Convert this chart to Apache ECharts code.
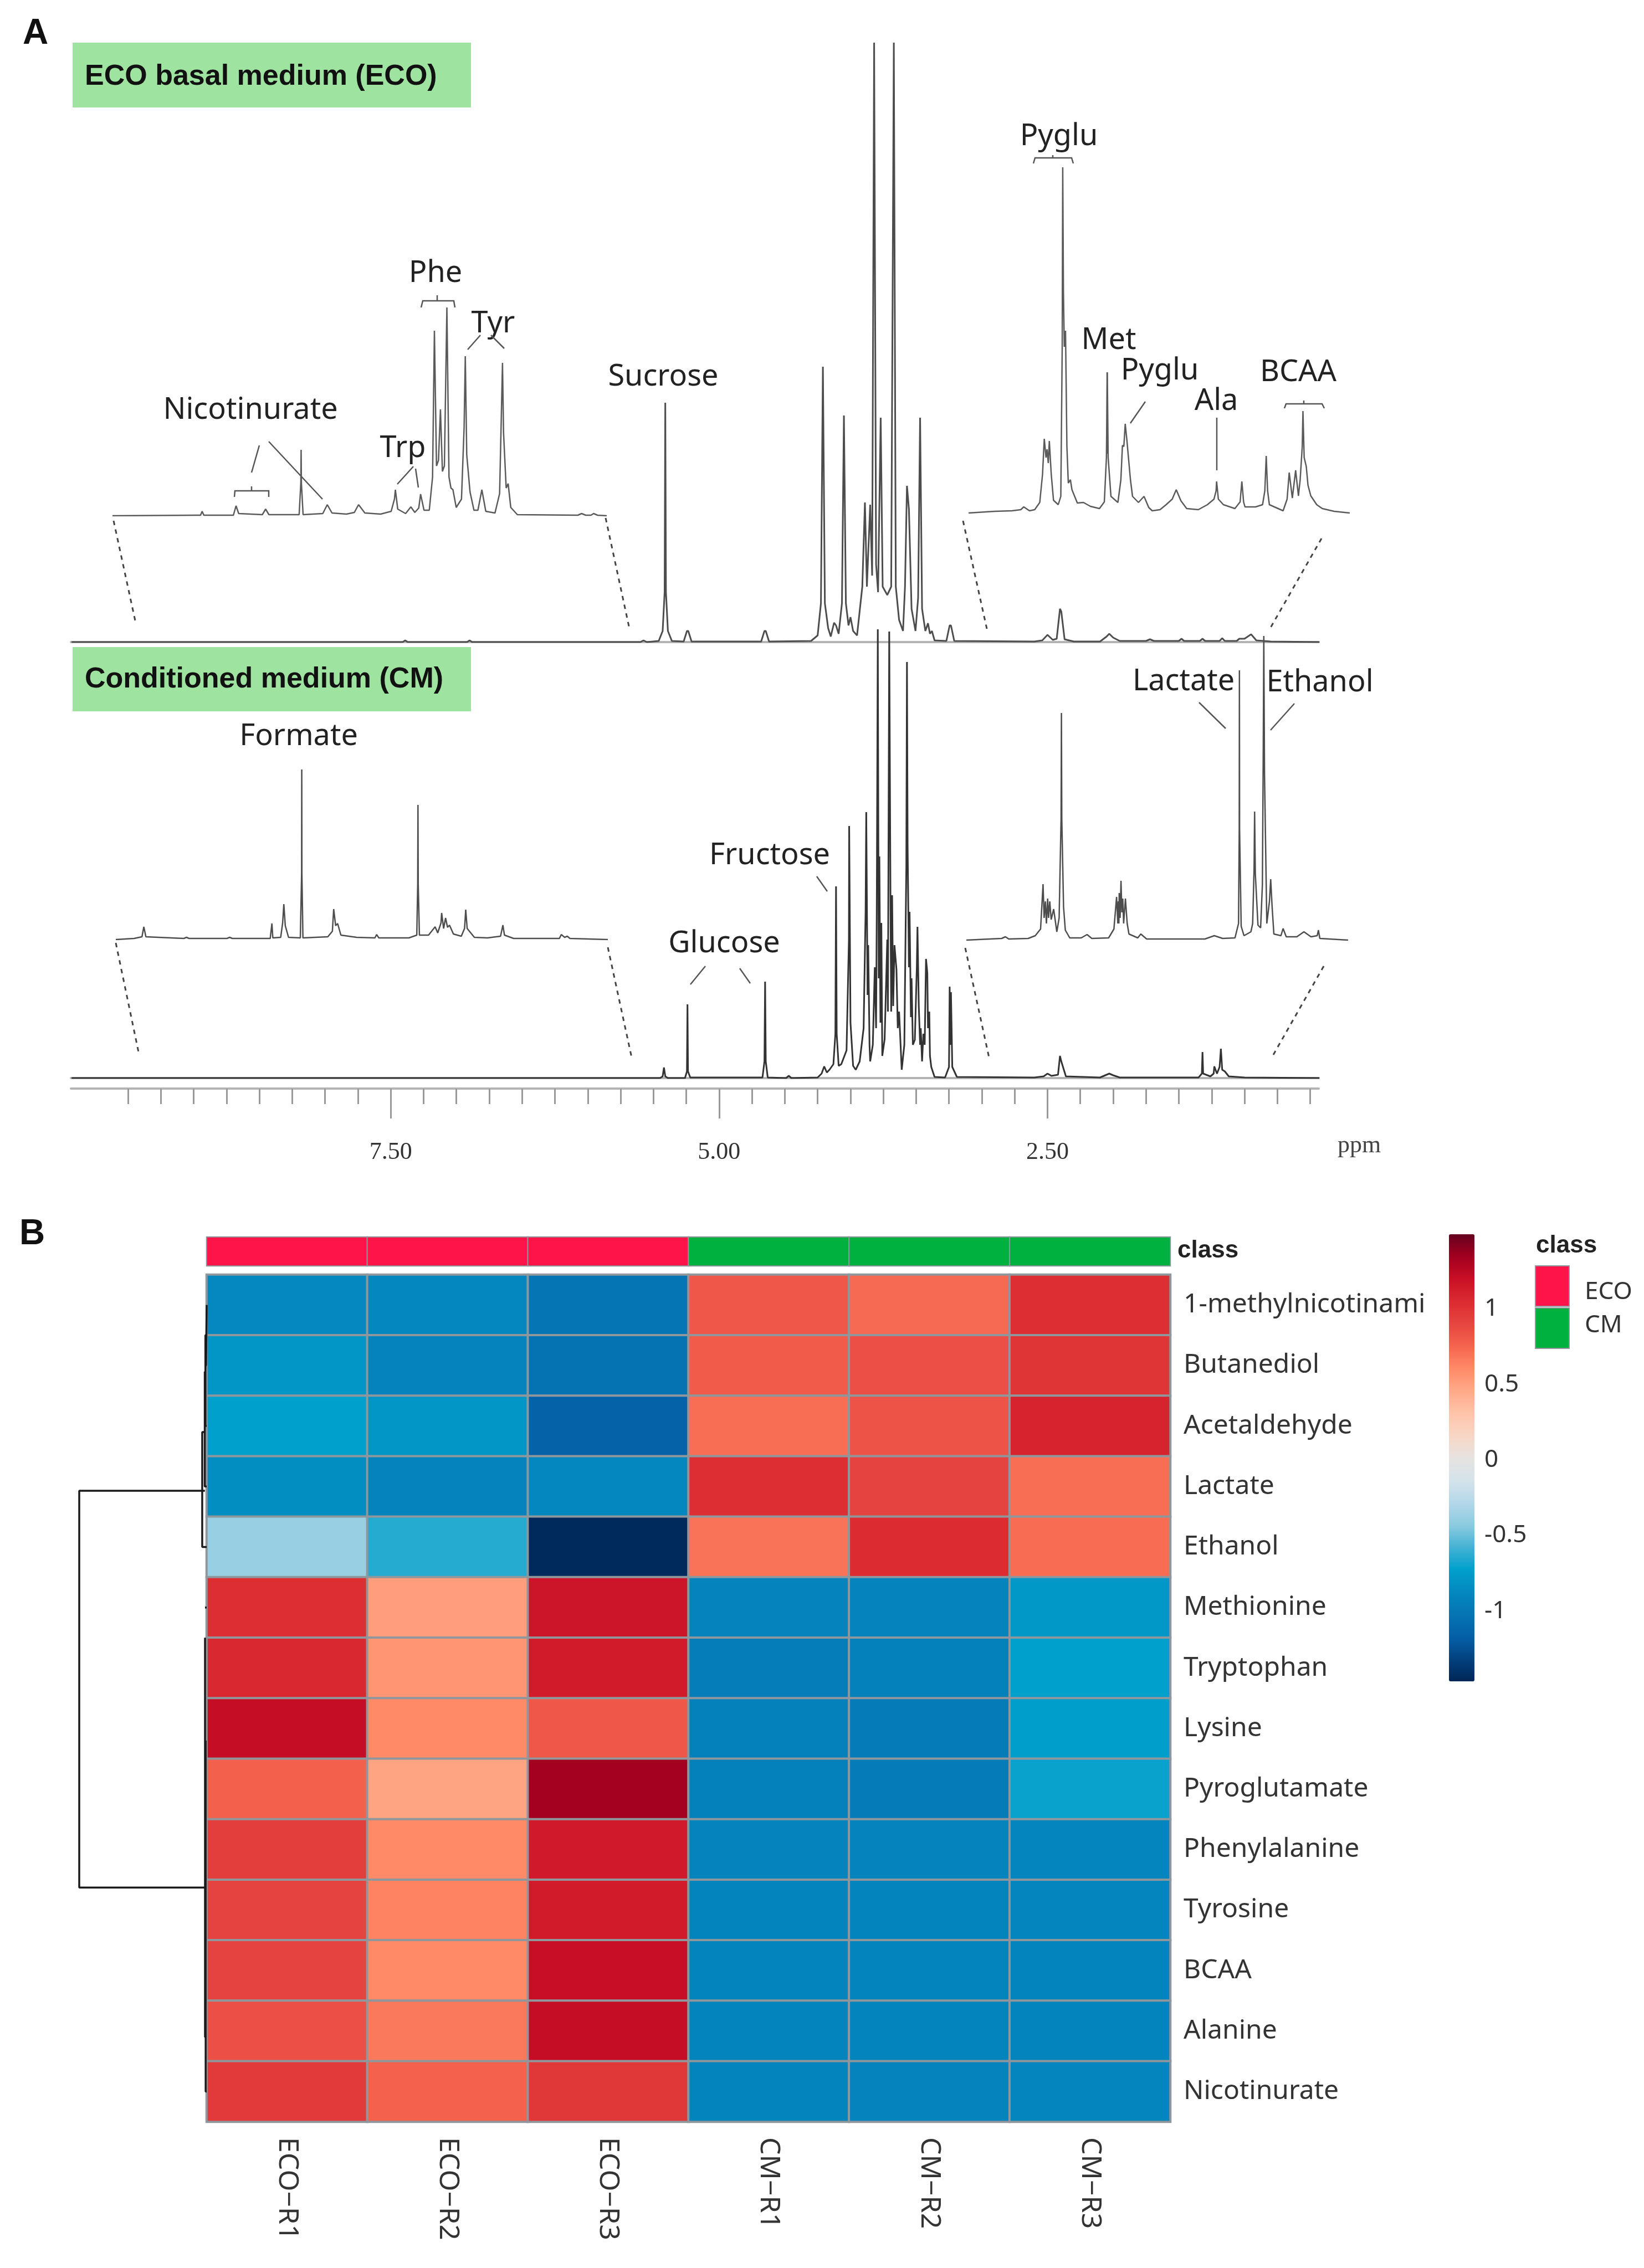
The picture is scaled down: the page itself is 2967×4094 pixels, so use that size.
<!DOCTYPE html>
<html>
<head>
<meta charset="utf-8">
<style>
  html, body { margin: 0; padding: 0; background: #fff; }
  #chart { width: 2967px; height: 4094px; }
</style>
<script src="https://cdn.jsdelivr.net/npm/echarts@6/dist/echarts.min.js"></script>
</head>
<body>
<div id="chart"></div>
<script>
// spectra: [ppm, intensity] vertices
const ecoMain = [[9.93,0],[7.41,0],[7.39,3],[7.37,0],[6.92,0],[6.9,3],[6.88,0],[5.6,0],[5.576,3],[5.55,0],[5.46,2],[5.43,20],[5.415,90],[5.41,432],[5.405,90],[5.39,20],[5.36,2],[5.27,1],[5.245,20],[5.235,20],[5.21,1],[4.68,1],[4.655,20],[4.645,20],[4.62,1],[4.3,2],[4.25,12],[4.225,70],[4.21,497],[4.195,70],[4.17,25],[4.15,10],[4.125,35],[4.11,30],[4.09,15],[4.065,70],[4.05,409],[4.035,70],[4.015,30],[4.0,45],[3.98,20],[3.95,12],[3.91,100],[3.89,252],[3.875,100],[3.85,248],[3.835,120],[3.82,1082],[3.805,140],[3.79,90],[3.77,405],[3.755,100],[3.72,85],[3.69,100],[3.67,1082],[3.655,100],[3.63,40],[3.6,20],[3.585,100],[3.57,282],[3.555,240],[3.535,60],[3.505,20],[3.485,80],[3.47,405],[3.455,60],[3.43,20],[3.41,34],[3.395,15],[3.38,20],[3.36,3],[3.27,2],[3.245,30],[3.235,30],[3.21,2],[2.6,1],[2.54,3],[2.5,13],[2.46,4],[2.43,6],[2.405,60],[2.395,55],[2.37,5],[2.3,1],[2.1,1],[2.05,10],[2.03,15],[2.0,8],[1.95,2],[1.75,2],[1.72,5],[1.69,2],[1.5,2],[1.48,6],[1.46,2],[1.34,2],[1.32,6],[1.3,2],[1.19,2],[1.17,7],[1.15,2],[1.06,2],[1.04,6],[1.0,6],[0.95,14],[0.91,3],[0.8,1],[0.43,0]]
const ecoLeft = [[9.44,0],[8.80,1],[8.77,1],[8.758,8],[8.745,1],[8.52,1],[8.50,18],[8.48,4],[8.30,2],[8.275,12],[8.25,2],[8.02,2],[8.007,60],[8.005,119],[8.003,60],[7.99,2],[7.84,4],[7.806,20],[7.77,5],[7.66,3],[7.60,6],[7.568,20],[7.52,5],[7.40,3],[7.32,8],[7.295,30],[7.288,47],[7.27,12],[7.21,4],[7.17,16],[7.14,6],[7.11,14],[7.096,39],[7.07,10],[7.03,10],[7.005,70],[6.991,334],[6.975,90],[6.96,100],[6.945,192],[6.93,80],[6.915,90],[6.896,376],[6.88,70],[6.865,50],[6.85,47],[6.825,15],[6.785,30],[6.765,160],[6.756,288],[6.745,110],[6.72,43],[6.69,10],[6.66,10],[6.63,47],[6.60,8],[6.53,5],[6.495,40],[6.48,200],[6.473,276],[6.465,150],[6.445,50],[6.43,58],[6.41,15],[6.36,2],[5.90,1],[5.871,4],[5.84,1],[5.80,1],[5.78,4],[5.75,1],[5.68,0]]
const ecoRight = [[3.0,0],[2.85,3],[2.75,4],[2.70,6],[2.683,11],[2.65,4],[2.62,6],[2.591,19],[2.575,70],[2.565,134],[2.555,100],[2.549,115],[2.542,90],[2.536,130],[2.525,70],[2.512,23],[2.485,15],[2.47,30],[2.462,300],[2.459,624],[2.455,400],[2.45,300],[2.443,329],[2.435,120],[2.427,54],[2.415,60],[2.406,42],[2.375,18],[2.34,19],[2.3,12],[2.248,8],[2.22,20],[2.208,100],[2.203,254],[2.198,100],[2.182,30],[2.142,19],[2.125,60],[2.116,122],[2.108,120],[2.10,161],[2.09,130],[2.084,130],[2.07,60],[2.058,30],[2.024,19],[1.992,30],[1.965,10],[1.945,4],[1.9,6],[1.865,15],[1.83,25],[1.807,42],[1.78,22],[1.747,8],[1.68,6],[1.628,15],[1.59,25],[1.578,40],[1.575,57],[1.565,25],[1.536,15],[1.47,8],[1.44,20],[1.43,57],[1.42,20],[1.412,11],[1.351,11],[1.311,15],[1.298,40],[1.29,103],[1.282,40],[1.272,15],[1.193,4],[1.17,25],[1.158,73],[1.14,27],[1.121,77],[1.105,31],[1.095,60],[1.083,120],[1.079,184],[1.072,100],[1.06,84],[1.05,50],[1.034,31],[1.0,15],[0.968,8],[0.9,3],[0.81,0]]
const cmMain = [[9.93,0],[5.45,0],[5.43,3],[5.42,19],[5.41,3],[5.39,0],[5.26,0],[5.245,12],[5.241,133],[5.237,12],[5.22,1],[4.67,1],[4.655,30],[4.65,174],[4.645,30],[4.63,1],[4.49,0],[4.47,4],[4.45,0],[4.25,1],[4.22,8],[4.2,21],[4.18,10],[4.16,15],[4.13,25],[4.115,80],[4.11,346],[4.105,80],[4.09,22],[4.07,25],[4.03,50],[4.012,250],[4.01,455],[4.0,100],[3.98,22],[3.96,15],[3.93,30],[3.90,90],[3.885,300],[3.88,480],[3.87,150],[3.865,240],[3.855,60],[3.85,30],[3.83,60],[3.815,200],[3.805,90],[3.80,300],[3.792,810],[3.785,180],[3.78,400],[3.772,100],[3.765,280],[3.758,40],[3.74,70],[3.72,250],[3.715,120],[3.705,806],[3.695,300],[3.69,120],[3.683,330],[3.675,130],[3.665,240],[3.65,196],[3.64,90],[3.63,120],[3.61,15],[3.59,60],[3.575,380],[3.57,751],[3.565,420],[3.555,200],[3.55,300],[3.54,110],[3.535,180],[3.525,60],[3.51,69],[3.495,200],[3.49,273],[3.48,130],[3.47,60],[3.465,90],[3.455,30],[3.445,80],[3.435,60],[3.425,215],[3.415,190],[3.41,90],[3.40,120],[3.395,40],[3.385,20],[3.36,2],[3.28,1],[3.25,20],[3.245,165],[3.24,60],[3.235,155],[3.225,20],[3.19,2],[2.6,1],[2.53,3],[2.5,8],[2.47,4],[2.42,6],[2.405,40],[2.395,30],[2.36,3],[2.1,1],[2.06,5],[2.03,8],[2.0,5],[1.95,1],[1.35,1],[1.325,8],[1.32,47],[1.315,8],[1.26,3],[1.235,8],[1.23,21],[1.21,8],[1.19,20],[1.18,53],[1.17,15],[1.15,12],[1.12,3],[1.0,1],[0.43,0]]
const cmLeft = [[9.44,0],[9.3,2],[9.24,5],[9.226,23],[9.21,5],[8.92,2],[8.90,4],[8.88,2],[8.59,2],[8.57,4],[8.55,2],[8.26,2],[8.247,29],[8.24,3],[8.18,4],[8.165,30],[8.156,64],[8.145,25],[8.12,4],[8.03,3],[8.02,120],[8.019,307],[8.018,120],[8.01,3],[7.82,5],[7.785,15],[7.775,55],[7.76,25],[7.745,29],[7.72,8],[7.6,4],[7.46,3],[7.447,9],[7.43,3],[7.2,3],[7.14,8],[7.133,100],[7.131,243],[7.129,100],[7.12,8],[7.05,8],[7.0,23],[6.98,12],[6.955,30],[6.95,48],[6.935,20],[6.92,39],[6.905,22],[6.89,26],[6.86,10],[6.8,6],[6.775,20],[6.766,54],[6.755,20],[6.7,4],[6.6,3],[6.5,6],[6.482,26],[6.47,8],[6.4,2],[6.05,2],[6.036,9],[6.01,4],[5.99,6],[5.97,2],[5.68,0]]
const cmRight = [[2.95,0],[2.75,3],[2.729,6],[2.71,2],[2.6,3],[2.56,8],[2.53,20],[2.516,101],[2.51,40],[2.503,70],[2.497,30],[2.49,75],[2.485,40],[2.478,70],[2.47,37],[2.456,56],[2.438,15],[2.425,40],[2.414,220],[2.412,410],[2.41,220],[2.40,60],[2.39,18],[2.365,4],[2.3,4],[2.267,10],[2.24,3],[2.145,4],[2.115,20],[2.10,78],[2.093,30],[2.09,70],[2.087,30],[2.085,85],[2.08,40],[2.075,107],[2.07,50],[2.065,75],[2.06,30],[2.05,75],[2.04,30],[2.03,11],[1.98,4],[1.963,11],[1.93,2],[1.6,2],[1.547,8],[1.50,3],[1.43,4],[1.41,30],[1.406,200],[1.405,487],[1.404,200],[1.395,25],[1.379,8],[1.34,15],[1.33,30],[1.322,130],[1.319,232],[1.315,120],[1.30,27],[1.285,22],[1.275,100],[1.27,350],[1.267,549],[1.263,300],[1.25,30],[1.235,70],[1.228,110],[1.22,60],[1.21,11],[1.17,8],[1.158,21],[1.14,6],[1.08,6],[1.04,15],[1.0,6],[0.965,8],[0.958,18],[0.95,3],[0.79,0]]

const ppmMajor = [7.5, 5, 2.5]
const ppmMinor = [9.5,9.25,9,8.75,8.5,8.25,8,7.75,7.25,7,6.75,6.5,6.25,6,5.75,5.5,5.25,4.75,4.5,4.25,4,3.75,3.5,3.25,3,2.75,2.25,2,1.75,1.5,1.25,1,0.75,0.5]

// heatmap
const samples = ['ECO\u2212R1', 'ECO\u2212R2', 'ECO\u2212R3', 'CM\u2212R1', 'CM\u2212R2', 'CM\u2212R3']
const sampleClass = ['ECO', 'ECO', 'ECO', 'CM', 'CM', 'CM']
const metabolites = ['1-methylnicotinami', 'Butanediol', 'Acetaldehyde', 'Lactate', 'Ethanol', 'Methionine', 'Tryptophan', 'Lysine', 'Pyroglutamate', 'Phenylalanine', 'Tyrosine', 'BCAA', 'Alanine', 'Nicotinurate']
const zscores = [
  [-0.89, -0.9, -1.03, 0.8, 0.72, 1.02],
  [-0.8, -0.93, -1.05, 0.78, 0.84, 0.98],
  [-0.74, -0.8, -1.18, 0.7, 0.82, 1.08],
  [-0.85, -0.93, -0.9, 1.02, 0.9, 0.7],
  [-0.4, -0.66, -1.46, 0.68, 1.03, 0.71],
  [1.02, 0.5, 1.15, -0.93, -0.93, -0.79],
  [1.05, 0.54, 1.12, -0.97, -0.95, -0.74],
  [1.2, 0.59, 0.8, -0.95, -0.98, -0.75],
  [0.76, 0.47, 1.33, -0.95, -0.98, -0.72],
  [0.93, 0.59, 1.13, -0.93, -0.93, -0.91],
  [0.9, 0.62, 1.12, -0.92, -0.92, -0.91],
  [0.9, 0.59, 1.19, -0.92, -0.92, -0.92],
  [0.84, 0.66, 1.2, -0.92, -0.92, -0.92],
  [0.95, 0.75, 0.97, -0.92, -0.93, -0.91]
]
const colorTicks = [-1, -0.5, 0, 0.5, 1]
const rampColors = ['#002557', '#03427f', '#0560a8', '#0575b3', '#0488bf', '#00a0cc', '#45b2d4', '#8ccbe0', '#b4d8e9', '#d5e3ea', '#e6e3e0', '#f8d5c5', '#ffc4aa', '#ffa988', '#ff8a68', '#f5644e', '#e64540', '#dc2b31', '#c90f26', '#a30020', '#67001f']
const classColors = { ECO: '#ff1449', CM: '#00b140' }

// dendrogram branches: [height, row position]
const dendroBranches = [
  [[1.4, 3.57], [100, 3.57], [100, 10.13], [1.3, 10.13]],
  [[0, 4.5], [3.5, 4.5], [3.5, 2.6], [1.5, 2.6]],
  [[1.5, 1.6], [1.5, 3.5], [0, 3.5]],
  [[0, 2.5], [1, 2.5], [1, 1.0], [0.5, 1.0]],
  [[0, 0.5], [0.5, 0.5], [0.5, 1.5], [0, 1.5]],
  [[1.3, 6.0], [1.3, 12.6], [0.5, 12.6]],
  [[0.8, 7.7], [0.8, 13.5], [0, 13.5]],
  [[0, 5.5], [1.3, 5.5]]
]

// annotations
const peakLabels = [
  ['Phe', 786, 494], ['Tyr', 890, 585], ['Sucrose', 1197, 681], ['Nicotinurate', 452, 741], ['Trp', 727, 810],
  ['Pyglu', 1911, 247], ['Met', 2001, 615], ['Pyglu', 2093, 670], ['Ala', 2195, 725], ['BCAA', 2343, 673],
  ['Formate', 539, 1330], ['Glucose', 1307, 1704], ['Fructose', 1389, 1545], ['Lactate', 2136, 1231], ['Ethanol', 2382, 1233]
]
const leaderLines = [
  [468,804,454,853], [485,797,582,901], [746,842,717,874], [750,846,755,880], [867,605,844,631], [886,605,910,629],
  [2067,725,2040,764], [1998,672,1998,819], [2196,754,2196,849], [454,886,454,878], [789,543,789,533], [1900,285,1900,280], [2353,729,2353,723],
  [1273,1744,1246,1777], [1335,1748,1354,1775], [1474,1582,1493,1609], [2164,1268,2212,1315], [2336,1270,2293,1318]
]
const brackets = [
  [[423,897],[424,886],[485,886],[485,897]],
  [[760,555],[763,543],[819,543],[821,555]],
  [[1865,295],[1868,285],[1934,285],[1937,295]],
  [[2318,737],[2321,729],[2386,729],[2390,737]]
]
const zoomGuides = [
  [205,940,245,1125], [1093,935,1136,1135], [1738,940,1781,1135], [2385,972,2293,1133],
  [209,1702,250,1899], [1097,1710,1140,1909], [1742,1711,1785,1909], [2389,1744,2298,1904]
]

const SANS = '"Noto Sans", sans-serif'
const chart = echarts.init(document.getElementById('chart'))

// one grid per spectrum, always the same hidden axes
const spectra = [
  { data: ecoMain, left: 128, width: 2252, top: 77, height: 1082, min: 0.435, max: 9.935, color: '#4d4d4d', lw: 3, main: true },
  { data: cmMain, left: 128, width: 2252, top: 1136, height: 810, min: 0.435, max: 9.935, color: '#333', lw: 3, main: true },
  { data: ecoLeft, left: 203, width: 892, top: 531, height: 400, min: 5.68, max: 9.44, color: '#5a5a5a', lw: 2.5 },
  { data: ecoRight, left: 1748, width: 688, top: 276, height: 650, min: 0.81, max: 3.0, color: '#5a5a5a', lw: 2.5 },
  { data: cmLeft, left: 209, width: 888, top: 1376, height: 320, min: 5.68, max: 9.44, color: '#4d4d4d', lw: 2.5 },
  { data: cmRight, left: 1744, width: 689, top: 1137, height: 560, min: 0.79, max: 2.95, color: '#4d4d4d', lw: 2.5 }
]

const grids = []
const xAxes = []
const yAxes = []
const series = []

spectra.forEach((s, i) => {
  grids.push({ left: s.left, width: s.width, top: s.top, height: s.height })
  xAxes.push({
    type: 'value', gridIndex: i, inverse: true, min: s.min, max: s.max,
    splitLine: { show: false }, axisTick: { show: false }, axisLabel: { show: false },
    axisLine: { show: !!s.main, onZero: false, lineStyle: { color: '#b4b4b4', width: 4 } }
  })
  yAxes.push({ type: 'value', gridIndex: i, min: 0, max: s.height, show: false })
  series.push({
    type: 'line', xAxisIndex: i, yAxisIndex: i, data: s.data, showSymbol: false, silent: true,
    lineStyle: { color: s.color, width: s.lw }
  })
})

// ppm scale below the spectra: one axis for long ticks + labels, one for short ticks
const scaleGrid = grids.length
grids.push({ left: 128, width: 2252, top: 1935, height: 30 })
xAxes.push({
  type: 'value', gridIndex: scaleGrid, inverse: true, min: 0.435, max: 9.935, position: 'bottom',
  splitLine: { show: false },
  axisLine: { lineStyle: { color: '#b4b4b4', width: 4 } },
  axisTick: { customValues: ppmMajor, length: 54, lineStyle: { color: '#999', width: 3 } },
  axisLabel: {
    customValues: ppmMajor, margin: 93, color: '#333', fontSize: 44, fontFamily: '"Liberation Serif", serif',
    formatter: v => v.toFixed(2)
  }
})
xAxes.push({
  type: 'value', gridIndex: scaleGrid, inverse: true, min: 0.435, max: 9.935, position: 'bottom',
  splitLine: { show: false }, axisLine: { show: false }, axisLabel: { show: false },
  axisTick: { customValues: ppmMinor, length: 28, lineStyle: { color: '#999', width: 3 } }
})
yAxes.push({ type: 'value', gridIndex: scaleGrid, show: false })
const scaleXIndex = xAxes.length - 2
series.push({ type: 'line', xAxisIndex: scaleXIndex, yAxisIndex: yAxes.length - 1, data: [] })

// class strip
const stripGrid = grids.length
grids.push({ left: 373, width: 1739, top: 2233, height: 52 })
xAxes.push({ type: 'category', gridIndex: stripGrid, data: samples, show: false })
yAxes.push({ type: 'category', gridIndex: stripGrid, data: ['class'], show: false })
series.push({
  type: 'heatmap', xAxisIndex: xAxes.length - 1, yAxisIndex: yAxes.length - 1, silent: true,
  data: sampleClass.map((c, i) => ({ value: [i, 0, c === 'ECO' ? 1 : 0], itemStyle: { color: classColors[c] } })),
  itemStyle: { borderColor: '#8f979c', borderWidth: 2 }
})

// heatmap
const heatGrid = grids.length
grids.push({ left: 373, width: 1739, top: 2301, height: 1529 })
xAxes.push({
  type: 'category', gridIndex: heatGrid, data: samples, position: 'bottom',
  axisLine: { show: false }, axisTick: { show: false }, splitLine: { show: false },
  axisLabel: { rotate: -90, margin: 28, fontSize: 50, color: '#333', fontFamily: SANS, interval: 0 }
})
yAxes.push({
  type: 'category', gridIndex: heatGrid, data: metabolites, inverse: true, position: 'right',
  axisLine: { show: false }, axisTick: { show: false }, splitLine: { show: false },
  axisLabel: { margin: 24, fontSize: 48, color: '#333', fontFamily: SANS, interval: 0 }
})
const heatData = []
zscores.forEach((row, r) => row.forEach((v, c) => heatData.push([c, r, v])))
const heatSeries = series.length
series.push({
  type: 'heatmap', xAxisIndex: xAxes.length - 1, yAxisIndex: yAxes.length - 1, silent: true, data: heatData,
  itemStyle: { borderColor: '#8f979c', borderWidth: 4 }
})

// dendrogram
const dendroGrid = grids.length
grids.push({ left: 143, width: 230, top: 2301, height: 1529 })
xAxes.push({ type: 'value', gridIndex: dendroGrid, inverse: true, min: 0, max: 100, show: false })
yAxes.push({ type: 'value', gridIndex: dendroGrid, inverse: true, min: 0, max: 14, show: false })
dendroBranches.forEach(b => {
  series.push({
    type: 'line', xAxisIndex: xAxes.length - 1, yAxisIndex: yAxes.length - 1, data: b, showSymbol: false, silent: true,
    lineStyle: { color: '#1a1a1a', width: 3.5 }, clip: false
  })
})

// colour bar labels
const barGrid = grids.length
grids.push({ left: 2661, width: 1, top: 2232, height: 807 })
xAxes.push({ type: 'value', gridIndex: barGrid, show: false })
yAxes.push({
  type: 'value', gridIndex: barGrid, min: -1.48, max: 1.48, position: 'right',
  axisLine: { show: false }, axisTick: { show: false }, splitLine: { show: false },
  axisLabel: { customValues: colorTicks, margin: 17, fontSize: 44, color: '#333', fontFamily: SANS }
})
series.push({ type: 'line', xAxisIndex: xAxes.length - 1, yAxisIndex: yAxes.length - 1, data: [] })

// drawn furniture
const text = (t, x, y, font, fill, align) => ({
  type: 'text', x, y, silent: true,
  style: { text: t, font, fill: fill || '#222', textAlign: align || 'center', textVerticalAlign: 'middle' }
})
const rect = (x, y, w, h, fill, stroke) => ({
  type: 'rect', silent: true, shape: { x, y, width: w, height: h },
  style: { fill, stroke: stroke || null, lineWidth: stroke ? 2 : 0 }
})
const graphics = [
  text('A', 64, 61, 'bold 64px "Liberation Sans"', '#111'),
  text('B', 58, 2228, 'bold 64px "Liberation Sans"', '#111'),
  rect(131, 77, 719, 117, '#9fe3a0'),
  rect(131, 1168, 719, 116, '#9fe3a0'),
  text('ECO basal medium (ECO)', 153, 139, 'bold 52px "Liberation Sans"', '#111', 'left'),
  text('Conditioned medium (CM)', 153, 1227, 'bold 52px "Liberation Sans"', '#111', 'left'),
  text('ppm', 2453, 2068, '44px "Liberation Serif"', '#444'),
  text('class', 2125, 2258, 'bold 44px "Liberation Sans"', '#222', 'left'),
  text('class', 2772, 2249, 'bold 44px "Liberation Sans"', '#222', 'left'),
  rect(2771, 2285, 61, 73, classColors.ECO, '#8f979c'),
  rect(2771, 2361, 61, 73, classColors.CM, '#8f979c'),
  text('ECO', 2860, 2332, '44px ' + SANS, '#333', 'left'),
  text('CM', 2860, 2392, '44px ' + SANS, '#333', 'left')
]
peakLabels.forEach(l => graphics.push(text(l[0], l[1], l[2], '54px ' + SANS, '#222')))
leaderLines.forEach(l => graphics.push({
  type: 'line', silent: true, shape: { x1: l[0], y1: l[1], x2: l[2], y2: l[3] },
  style: { stroke: '#555', lineWidth: 2.5 }
}))
brackets.forEach(b => graphics.push({
  type: 'polyline', silent: true, shape: { points: b },
  style: { stroke: '#555', lineWidth: 2.5, fill: null }
}))
zoomGuides.forEach(l => graphics.push({
  type: 'line', silent: true, shape: { x1: l[0], y1: l[1], x2: l[2], y2: l[3] },
  style: { stroke: '#444', lineWidth: 3, lineDash: [8, 8] }
}))

chart.setOption({
  animation: false,
  backgroundColor: '#fff',
  grid: grids,
  xAxis: xAxes,
  yAxis: yAxes,
  series,
  visualMap: {
    type: 'continuous', seriesIndex: heatSeries, min: -1.48, max: 1.48, calculable: false,
    left: 2615, top: 2228, itemWidth: 46, itemHeight: 807, padding: 0, text: null, showLabel: false,
    inRange: { color: rampColors }
  },
  graphic: { elements: graphics }
})
</script>
</body>
</html>
